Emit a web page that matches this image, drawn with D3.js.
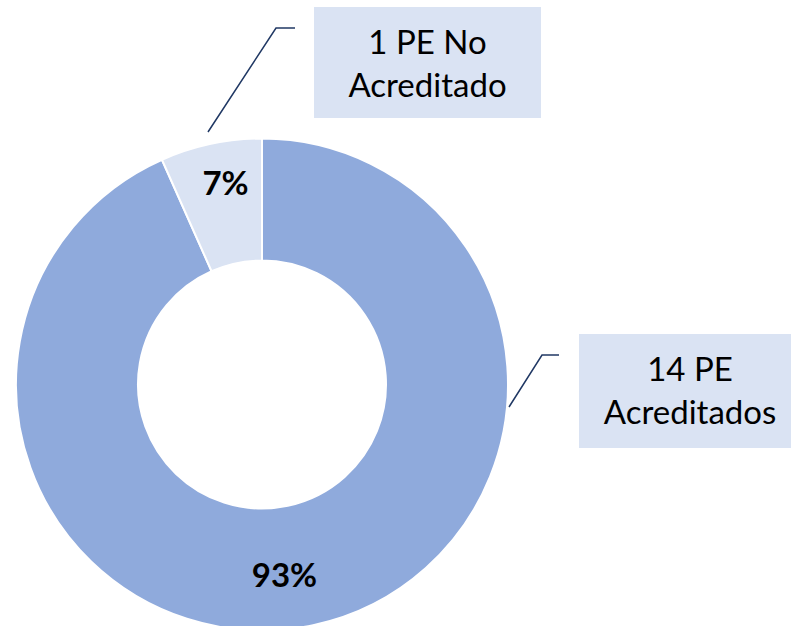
<!DOCTYPE html>
<html>
<head>
<meta charset="utf-8">
<script src="https://cdn.jsdelivr.net/npm/d3@7"></script>
<style>
  body { margin: 0; background: #fff; }
  svg { display: block; font-family: Lato, "Open Sans", sans-serif; }
</style>
</head>
<body>
<div id="chart"></div>
<script>
// data
var categories = ["14 PE Acreditados", "1 PE No Acreditado"];
var values = [14, 1];
var percentLabels = ["93%", "7%"];
var calloutLines = [["14 PE", "Acreditados"], ["1 PE No", "Acreditado"]];

var width = 791, height = 626;
var cx = 262, cy = 384.5;
var outerR = 246, innerR = 124;

var colors = ["#8FAADC", "#DAE3F3"];
var lineColor = "#203864";

var svg = d3.select("#chart").append("svg")
    .attr("width", width)
    .attr("height", height);

var pie = d3.pie().sort(null).value(function(d) { return d; });
var arc = d3.arc().innerRadius(innerR).outerRadius(outerR);

var arcs = pie(values);

var g = svg.append("g")
    .attr("transform", "translate(" + cx + "," + cy + ")");

g.selectAll("path")
    .data(arcs)
    .enter().append("path")
    .attr("d", arc)
    .attr("fill", function(d, i) { return colors[i]; })
    .attr("stroke", "#fff")
    .attr("stroke-width", 2);

// percent labels (nudged like the original)
var labelOffset = [[-16, 9], [2, -22]];
g.selectAll("text.pct")
    .data(arcs)
    .enter().append("text")
    .attr("class", "pct")
    .attr("x", function(d, i) { return arc.centroid(d)[0] + labelOffset[i][0]; })
    .attr("y", function(d, i) { return arc.centroid(d)[1] + labelOffset[i][1]; })
    .attr("text-anchor", "middle")
    .attr("dominant-baseline", "central")
    .attr("font-weight", "bold")
    .attr("font-size", 33)
    .attr("fill", "#000")
    .text(function(d, i) { return percentLabels[i]; });

// callout boxes
var boxes = [
  {x: 579, y: 334, w: 222, h: 114, line: [[509, 407], [542, 355], [559, 355]]},
  {x: 314, y: 7, w: 227, h: 111, line: [[208, 132], [276, 28], [295, 28]]}
];

boxes.forEach(function(b, i) {
  svg.append("path")
      .attr("d", d3.line()(b.line))
      .attr("fill", "none")
      .attr("stroke", lineColor)
      .attr("stroke-width", 1.5);

  svg.append("rect")
      .attr("x", b.x).attr("y", b.y)
      .attr("width", b.w).attr("height", b.h)
      .attr("fill", "#DAE3F3");

  var t = svg.append("text")
      .attr("text-anchor", "middle")
      .attr("font-size", 33)
      .attr("fill", "#000");
  calloutLines[i].forEach(function(s, j) {
    t.append("tspan")
        .attr("x", b.x + b.w / 2)
        .attr("y", b.y + 47 + j * 43)
        .text(s);
  });
});
</script>
</body>
</html>
